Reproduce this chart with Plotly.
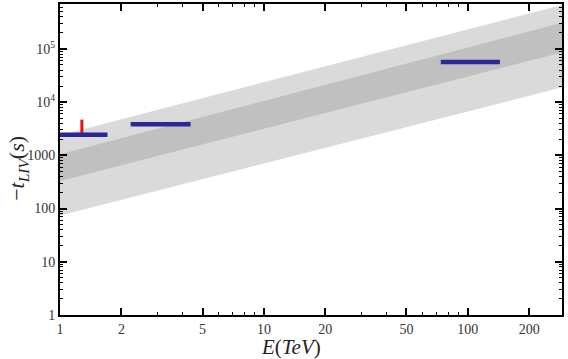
import plotly.graph_objects as go

# energy span of the bands (TeV)
band_E = [1, 290]
light_lo = [74, 19000]
light_hi = [2400, 670000]
dark_lo = [330, 86000]
dark_hi = [1050, 310000]

# blue horizontal segments: (E start, E end, t)
seg_E_start = [1.0, 2.22, 73.7]
seg_E_end = [1.71, 4.37, 143.6]
seg_t = [2430, 3830, 57000]

# red vertical marker
red_E = [1.28, 1.28]
red_t = [2430, 4700]

x_ticks = [1, 2, 5, 10, 20, 50, 100, 200]
y_ticks = [1, 10, 100, 1000, 1e4, 1e5]
y_text = ["1", "10", "100", "1000", "10<sup>4</sup>", "10<sup>5</sup>"]

LIGHT = "rgb(218,218,218)"
DARK = "rgb(192,192,192)"
BLUE = "rgb(40,40,150)"
SERIF = "Liberation Serif"

fig = go.Figure()

# light band
fig.add_trace(go.Scatter(x=band_E, y=light_lo, mode="lines", line=dict(width=0),
                         showlegend=False, hoverinfo="skip"))
fig.add_trace(go.Scatter(x=band_E, y=light_hi, mode="lines", line=dict(width=0),
                         fill="tonexty", fillcolor=LIGHT, showlegend=False, hoverinfo="skip"))
# dark band
fig.add_trace(go.Scatter(x=band_E, y=dark_lo, mode="lines", line=dict(width=0),
                         showlegend=False, hoverinfo="skip"))
fig.add_trace(go.Scatter(x=band_E, y=dark_hi, mode="lines", line=dict(width=0),
                         fill="tonexty", fillcolor=DARK, showlegend=False, hoverinfo="skip"))

# red marker
fig.add_trace(go.Scatter(x=red_E, y=red_t, mode="lines",
                         line=dict(color="rgb(230,20,20)", width=3), showlegend=False))

# blue segments
for e0, e1, t in zip(seg_E_start, seg_E_end, seg_t):
    fig.add_trace(go.Scatter(x=[e0, e1], y=[t, t], mode="lines",
                             line=dict(color=BLUE, width=4.5), showlegend=False))

axis_common = dict(
    type="log", showgrid=False, zeroline=False, automargin=False,
    showline=True, linecolor="black", linewidth=2, mirror="ticks",
    ticks="inside", tickcolor="black", tickwidth=1.5, ticklen=7,
    tickfont=dict(family=SERIF, size=14, color="#333"),
    minor=dict(dtick="D1", ticks="inside", ticklen=3, tickcolor="black", tickwidth=1, showgrid=False),
)

fig.update_xaxes(**axis_common, range=[0, 2.462], tickvals=x_ticks,
                 ticktext=[str(v) for v in x_ticks])
fig.update_yaxes(**axis_common, range=[0, 5.845], tickvals=y_ticks, ticktext=y_text)

fig.update_layout(
    width=568, height=359,
    margin=dict(l=60, r=6, t=4, b=44),
    plot_bgcolor="white", paper_bgcolor="white",
    annotations=[
        dict(text="<i>E</i>(<i>TeV</i>)", xref="paper", yref="paper",
             x=0.46, y=0, yshift=-32, xanchor="center", yanchor="middle", showarrow=False,
             font=dict(family=SERIF, size=21, color="#222")),
        dict(text="−<i>t</i><sub><i>LIV</i></sub>(<i>s</i>)", xref="paper", yref="paper",
             x=0, xshift=-42, y=0.47, xanchor="center", yanchor="middle", textangle=-90,
             showarrow=False, font=dict(family=SERIF, size=22, color="#222")),
    ],
)

# drop the default page margin so the figure sits at the window's corner
fig.write_html("out.html", config={"displayModeBar": False},
               post_script="document.body.style.margin='0';")
